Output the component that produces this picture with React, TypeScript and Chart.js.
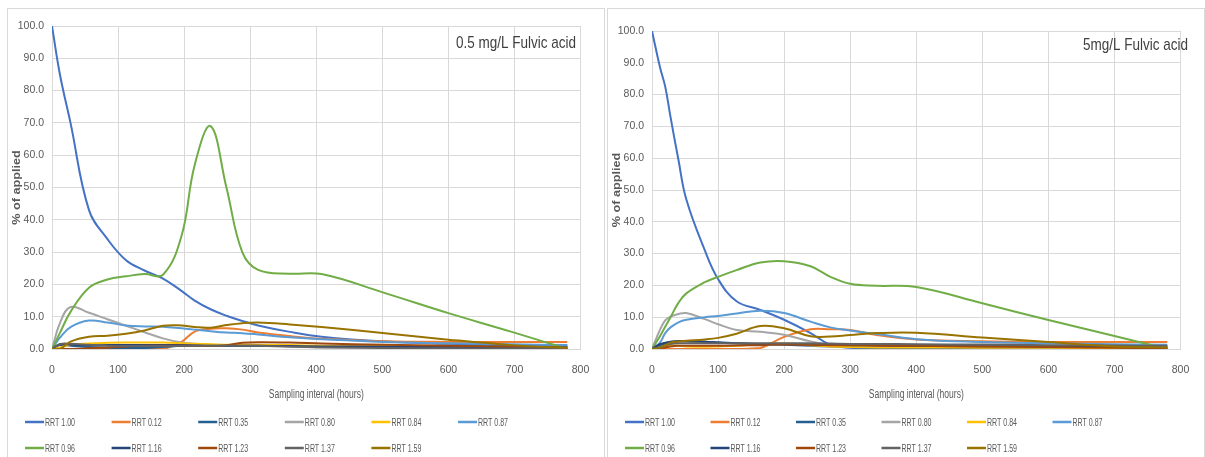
import React, { useEffect, useRef } from 'react';
import { Chart, registerables } from 'chart.js';

Chart.register(...registerables);

// ---------- shared labels ----------
const SERIES_NAMES = ['RRT 1.00', 'RRT 0.12', 'RRT 0.35', 'RRT 0.80', 'RRT 0.84', 'RRT 0.87', 'RRT 0.96', 'RRT 1.16', 'RRT 1.23', 'RRT 1.37', 'RRT 1.59'];
const SERIES_COLORS = ['#4472C4', '#ED7D31', '#255E91', '#A5A5A5', '#FFC000', '#5B9BD5', '#70AD47', '#264478', '#9E480E', '#636363', '#997300'];
const X_TICKS = [0, 100, 200, 300, 400, 500, 600, 700, 800];
const Y_TICKS = [0, 10, 20, 30, 40, 50, 60, 70, 80, 90, 100];
const X_TITLE = 'Sampling interval (hours)';
const Y_TITLE = '% of applied';
const LOW_TITLE = '0.5 mg/L Fulvic acid';
const HIGH_TITLE = '5mg/L Fulvic acid';

// ---------- 0.5 mg/L Fulvic acid ----------
const LOW_HOURS = [0, 12, 28, 56, 84, 112, 140, 168, 196, 216, 240, 264, 288, 312, 360, 408, 504, 600, 696, 780];
const LOW_RRT_100 = [100, 85, 70, 43, 34, 27.5, 24.3, 21.8, 18, 15, 12.3, 10.3, 8.7, 7.3, 5.3, 3.8, 2.3, 1.6, 1.2, 1.0];
const LOW_RRT_012 = [0, 0, 0, 0, 0, 0, 0, 0, 2.2, 5.4, 6.3, 6.4, 6.0, 5.1, 4.0, 3.2, 2.4, 2.2, 2.2, 2.2];
const LOW_RRT_035 = [0, 1.2, 1.0, 0.6, 0.4, 0.3, 0.3, 0.6, 1.0, 1.1, 1.0, 0.9, 0.9, 0.9, 0.9, 0.9, 0.8, 0.8, 0.8, 0.8];
const LOW_RRT_080 = [0, 8, 13, 11.2, 9.2, 7.2, 5.2, 3.3, 2.0, 1.6, 1.3, 1.2, 1.1, 1.0, 0.9, 0.8, 0.6, 0.5, 0.4, 0.3];
const LOW_RRT_084 = [0, 0.5, 1.3, 1.7, 1.9, 2.0, 2.0, 2.0, 1.8, 1.6, 1.5, 1.3, 1.3, 1.3, 1.2, 1.0, 0.8, 0.6, 0.5, 0.4];
const LOW_RRT_087 = [0, 3.5, 6.8, 8.8, 8.2, 7.3, 7.0, 6.9, 6.4, 6.0, 5.5, 5.1, 4.9, 4.5, 3.6, 3.0, 2.2, 1.8, 1.5, 1.2];
const LOW_RRT_096 = [0, 5, 11.5, 19, 21.5, 22.5, 23.2, 23, 35, 57, 69, 50, 30, 24.5, 23.3, 23.2, 17.3, 11.1, 5.3, 0];
const LOW_RRT_116 = [0, 1.5, 1.3, 1.2, 1.2, 1.2, 1.2, 1.2, 1.2, 1.1, 1.0, 1.0, 1.0, 1.0, 0.9, 0.8, 0.7, 0.6, 0.5, 0.4];
const LOW_RRT_123 = [0, 0, 0, 0.2, 0.5, 0.8, 1.0, 1.0, 1.0, 1.0, 0.9, 1.2, 1.9, 2.1, 2.0, 1.7, 1.3, 1.0, 0.7, 0.4];
const LOW_RRT_137 = [0, 1.5, 1.6, 1.3, 1.0, 0.9, 0.9, 0.9, 1.0, 1.0, 1.0, 1.0, 1.0, 1.0, 0.7, 0.5, 0.3, 0.2, 0.2, 0.2];
const LOW_RRT_159 = [0, 0, 2.3, 3.8, 4.1, 4.7, 5.7, 7.2, 7.3, 6.8, 6.6, 7.4, 8.0, 8.2, 7.6, 6.8, 4.9, 2.9, 1.2, 0.3];

// ---------- 5 mg/L Fulvic acid ----------
const HIGH_HOURS = [0, 12, 20, 28, 40, 52, 80, 100, 128, 164, 200, 240, 270, 300, 340, 400, 500, 600, 700, 780];
const HIGH_RRT_100 = [100, 88.7, 82.5, 73, 59.5, 47, 31, 22, 15, 12.3, 9.2, 5, 1.3, 0.4, 0.3, 0.3, 0.3, 0.3, 0.3, 0.3];
const HIGH_RRT_012 = [0, 0, 0, 0, 0, 0, 0, 0, 0, 0.3, 3.8, 6.2, 6.2, 6.0, 4.4, 3.0, 2.4, 2.2, 2.2, 2.2];
const HIGH_RRT_035 = [0, 1.2, 1.8, 2.2, 2.4, 2.4, 2.3, 2.1, 1.8, 1.5, 1.3, 1.0, 0.8, 0.6, 0.5, 0.5, 0.5, 0.6, 0.7, 0.8];
const HIGH_RRT_080 = [0, 6, 9, 10.2, 11, 11.3, 9.4, 7.8, 6.0, 5.4, 4.5, 2.4, 1.4, 1.2, 1.1, 1.0, 0.9, 0.8, 0.7, 0.6];
const HIGH_RRT_084 = [0, 0.5, 1.0, 1.2, 1.0, 0.8, 0.7, 0.8, 1.0, 1.5, 1.8, 1.2, 0.8, 0.6, 0.5, 0.5, 0.4, 0.4, 0.3, 0.3];
const HIGH_RRT_087 = [0, 2, 5, 6.8, 8.4, 9.2, 10, 10.4, 11.2, 12, 11.3, 8.6, 6.8, 5.8, 4.7, 3.1, 2.2, 1.8, 1.5, 1.3];
const HIGH_RRT_096 = [0, 4, 7, 10, 14.5, 17.5, 21, 22.7, 24.8, 27.2, 27.6, 26, 22.7, 20.5, 19.9, 19.5, 14.4, 9.1, 4.1, 0];
const HIGH_RRT_116 = [0, 1.5, 2.0, 2.3, 2.5, 2.5, 2.3, 2.0, 1.8, 1.6, 1.5, 1.4, 1.3, 1.2, 1.1, 1.0, 0.9, 0.8, 0.6, 0.5];
const HIGH_RRT_123 = [0, 0.2, 0.5, 0.8, 1.0, 1.0, 1.0, 1.0, 1.1, 1.2, 1.4, 1.3, 1.2, 1.2, 1.1, 1.0, 0.8, 0.6, 0.4, 0.3];
const HIGH_RRT_137 = [0, 0.6, 1.2, 1.6, 1.8, 1.8, 1.8, 1.8, 1.8, 1.8, 1.8, 1.8, 1.7, 1.6, 1.6, 1.5, 1.4, 1.2, 1.1, 1.0];
const HIGH_RRT_159 = [0, 0.3, 1.2, 2.0, 2.4, 2.6, 3.0, 3.5, 4.8, 7.2, 6.5, 4.0, 3.9, 4.4, 5.0, 5.1, 3.6, 2.2, 0.8, 0.5];

const LOW_SERIES = [LOW_RRT_100, LOW_RRT_012, LOW_RRT_035, LOW_RRT_080, LOW_RRT_084, LOW_RRT_087, LOW_RRT_096, LOW_RRT_116, LOW_RRT_123, LOW_RRT_137, LOW_RRT_159];
const HIGH_SERIES = [HIGH_RRT_100, HIGH_RRT_012, HIGH_RRT_035, HIGH_RRT_080, HIGH_RRT_084, HIGH_RRT_087, HIGH_RRT_096, HIGH_RRT_116, HIGH_RRT_123, HIGH_RRT_137, HIGH_RRT_159];

const TEXT_COLOR = '#595959';
const GRID_COLOR = '#D9D9D9';
const BASE_FONT = "'Liberation Sans', Arial, sans-serif";
const TICK_SIZE = 10.5;

// draw text with given size, horizontally compressed to a target width
function drawFitted(
  ctx: CanvasRenderingContext2D,
  text: string,
  x: number,
  y: number,
  font: string,
  targetW: number,
  align: CanvasTextAlign,
  rotate = 0
) {
  ctx.save();
  ctx.font = font;
  const w = ctx.measureText(text).width || 1;
  const sx = Math.min(1.15, targetW / w);
  ctx.translate(x, y);
  if (rotate) ctx.rotate(rotate);
  ctx.scale(sx, 1);
  ctx.textAlign = align;
  ctx.textBaseline = 'middle';
  ctx.fillText(text, 0, 0);
  ctx.restore();
}

type Spec = {
  title: string;
  hours: number[];
  series: number[][];
  plotTop: number;
  padRight: number;
  titleRight: number;
  titleY: number;
  titleW: number;
  legendStep: number;
};

const CANVAS_W = 596;
const CANVAS_H = 448;

function Panel({ spec, left }: { spec: Spec; left: number }) {
  const ref = useRef<HTMLCanvasElement | null>(null);
  useEffect(() => {
    const canvas = ref.current!;

    const datasets = SERIES_NAMES.map((name, i) => ({
      label: name,
      data: spec.hours.map((h, k) => ({ x: h, y: spec.series[i][k] })),
      borderColor: SERIES_COLORS[i],
      backgroundColor: SERIES_COLORS[i],
      borderWidth: 2,
      pointRadius: 0,
      pointHoverRadius: 0,
      tension: 0.4,
      fill: false,
      order: -i,
    }));

    const overlay = {
      id: 'overlay',
      afterDraw(chart: any) {
        const ctx = chart.ctx as CanvasRenderingContext2D;
        const area = chart.chartArea;
        ctx.save();
        // panel title (inside plot, top-right)
        ctx.fillStyle = '#404040';
        drawFitted(ctx, spec.title, spec.titleRight, spec.titleY, `17px ${BASE_FONT}`, spec.titleW, 'right');
        // axis titles
        ctx.fillStyle = TEXT_COLOR;
        drawFitted(ctx, X_TITLE, (area.left + area.right) / 2, 386, `12.5px ${BASE_FONT}`, 95, 'center');
        drawFitted(ctx, Y_TITLE, 9, (area.top + area.bottom) / 2, `bold 11px ${BASE_FONT}`, 82, 'center', -Math.PI / 2);
        // legend
        SERIES_NAMES.forEach((name, i) => {
          const row = Math.floor(i / 6);
          const col = i % 6;
          const x = 17 + col * spec.legendStep;
          const y = 413 + row * 26;
          ctx.strokeStyle = SERIES_COLORS[i];
          ctx.lineWidth = 2.5;
          ctx.beginPath();
          ctx.moveTo(x, y);
          ctx.lineTo(x + 19, y);
          ctx.stroke();
          ctx.fillStyle = TEXT_COLOR;
          drawFitted(ctx, name, x + 20, y + 0.5, `11.5px ${BASE_FONT}`, 30, 'left');
        });
        ctx.restore();
      },
    };

    const chart = new Chart(canvas, {
      type: 'line',
      data: { datasets },
      options: {
        animation: false,
        responsive: false,
        devicePixelRatio: 1,
        events: [],
        layout: { padding: { top: spec.plotTop, right: spec.padRight, bottom: 48, left: 0 } },
        plugins: {
          legend: { display: false },
          tooltip: { enabled: false },
          title: { display: false },
        },
        scales: {
          x: {
            type: 'linear',
            min: X_TICKS[0],
            max: X_TICKS[X_TICKS.length - 1],
            afterBuildTicks: (s: any) => {
              s.ticks = X_TICKS.map((v) => ({ value: v }));
            },
            ticks: {
              color: TEXT_COLOR,
              font: { family: BASE_FONT, size: TICK_SIZE },
              padding: 21 - 0.6 * TICK_SIZE,
              maxRotation: 0,
              autoSkip: false,
            },
            grid: { color: GRID_COLOR, drawTicks: false, lineWidth: 1 },
            border: { color: GRID_COLOR },
            title: { display: false },
            afterFit: (s: any) => {
              s.height = 60;
            },
          },
          y: {
            type: 'linear',
            min: Y_TICKS[0],
            max: Y_TICKS[Y_TICKS.length - 1],
            afterBuildTicks: (s: any) => {
              s.ticks = Y_TICKS.map((v) => ({ value: v }));
            },
            ticks: {
              color: TEXT_COLOR,
              font: { family: BASE_FONT, size: TICK_SIZE },
              padding: 8,
              callback: (v: any) => Number(v).toFixed(1),
            },
            grid: { color: GRID_COLOR, drawTicks: false, lineWidth: 1 },
            border: { color: GRID_COLOR },
            title: { display: false },
            afterFit: (s: any) => {
              s.width = 44;
            },
          },
        },
      } as any,
      plugins: [overlay],
    });
    return () => chart.destroy();
  }, []);
  return (
    <div
      style={{
        position: 'absolute',
        left,
        top: 8,
        width: CANVAS_W,
        height: 470,
        border: `1px solid ${GRID_COLOR}`,
        background: '#fff',
      }}
    >
      <canvas ref={ref} width={CANVAS_W} height={CANVAS_H} style={{ display: 'block', width: CANVAS_W, height: CANVAS_H }} />
    </div>
  );
}

const LOW_SPEC: Spec = {
  title: LOW_TITLE,
  hours: LOW_HOURS,
  series: LOW_SERIES,
  plotTop: 17,
  padRight: 12,
  titleRight: 568,
  titleY: 34,
  titleW: 120,
  legendStep: 86.6,
};

const HIGH_SPEC: Spec = {
  title: HIGH_TITLE,
  hours: HIGH_HOURS,
  series: HIGH_SERIES,
  plotTop: 22,
  padRight: 11,
  titleRight: 580,
  titleY: 36,
  titleW: 105,
  legendStep: 85.5,
};

export default function App() {
  return (
    <div
      style={{
        position: 'fixed',
        left: 0,
        top: 0,
        width: 1205,
        height: 457,
        overflow: 'hidden',
        background: '#fff',
      }}
    >
      <Panel spec={LOW_SPEC} left={7} />
      <Panel spec={HIGH_SPEC} left={607} />
    </div>
  );
}
